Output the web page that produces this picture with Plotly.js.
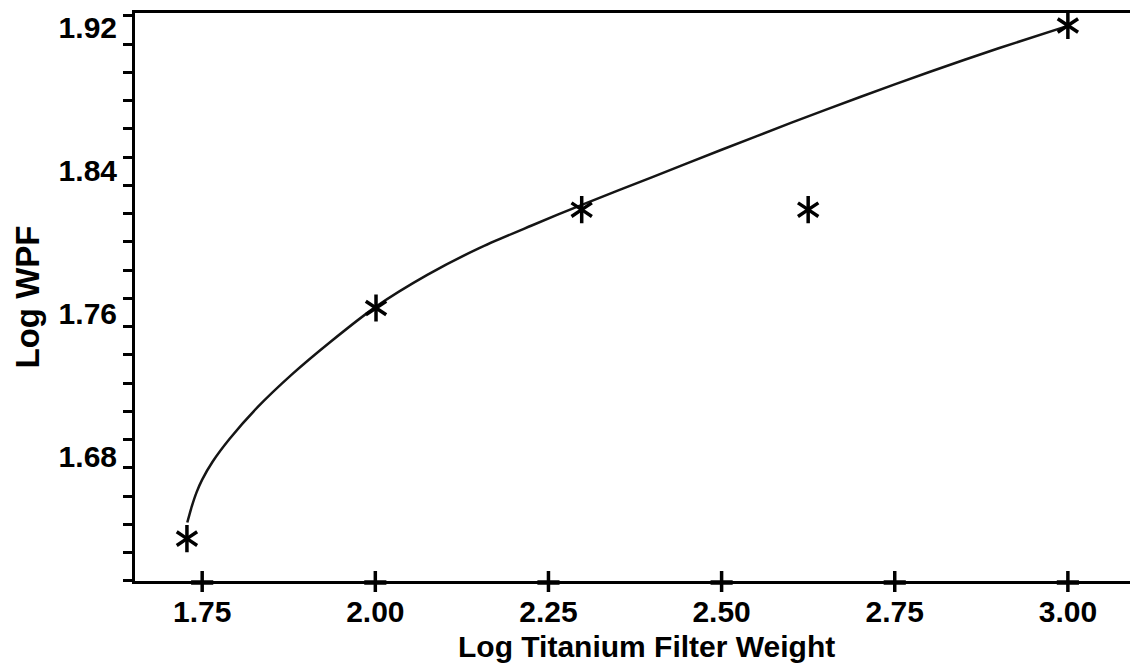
<!DOCTYPE html>
<html>
<head>
<meta charset="utf-8">
<script src="https://cdn.plot.ly/plotly-3.0.1.min.js"></script>
<style>
  html, body { margin: 0; padding: 0; background: #ffffff; }
  #chart { width: 1130px; height: 669px; }
</style>
</head>
<body>
<div id="chart"></div>
<script>
// Measured points: log titanium filter weight vs log WPF
const filterWeight = [1.728, 2.001, 2.298, 2.625, 3.000];
const logWPF       = [1.634, 1.763, 1.818, 1.818, 1.921];

// Fitted curve, sampled along its length
const fitX = [1.7285, 1.735, 1.742, 1.750, 1.765, 1.790, 1.830, 1.880, 1.935, 2.000, 2.075,
              2.150, 2.225, 2.300, 2.400, 2.500, 2.600, 2.700, 2.800, 2.900, 3.000];
const fitY = [1.643, 1.652, 1.660, 1.667, 1.677, 1.690, 1.7075, 1.726, 1.744, 1.7635, 1.7815,
              1.7965, 1.809, 1.821, 1.8362, 1.8515, 1.8665, 1.881, 1.895, 1.9083, 1.9208];

// Axis labels
const xTicks = [1.75, 2.00, 2.25, 2.50, 2.75, 3.00];
const xTickText = ['1.75', '2.00', '2.25', '2.50', '2.75', '3.00'];
const yTicks = [1.68, 1.76, 1.84, 1.92];
const yTickText = ['1.68', '1.76', '1.84', '1.92'];
const xTitle = 'Log Titanium Filter Weight';
const yTitle = 'Log WPF';

const FONT = 'Liberation Sans, Arial, Helvetica, sans-serif';
const xRange = [1.653, 3.0897];
const yRange = [1.6103, 1.928];
const PLOT_H = 669 - 13 - 88;
const PLOT_W = 1130 - 135;

const starMarker = (symbol) => ({
  x: filterWeight,
  y: logWPF,
  type: 'scatter',
  mode: 'markers',
  marker: { symbol: symbol, size: 17, color: '#000', line: { color: '#000', width: 3.5 } },
  hoverinfo: 'skip',
  cliponaxis: false
});

const traces = [
  {
    x: fitX,
    y: fitY,
    type: 'scatter',
    mode: 'lines',
    line: { color: '#151515', width: 2.5, shape: 'spline', smoothing: 0.7 },
    hoverinfo: 'skip'
  },
  starMarker('y-up-open'),
  starMarker('y-down-open')
];

// Cross-shaped x ticks straddling the bottom axis line
const crossShapes = [];
xTicks.forEach((v) => {
  crossShapes.push({
    type: 'line', xref: 'x', yref: 'paper', layer: 'above',
    x0: v, x1: v, y0: -11 / PLOT_H, y1: 10 / PLOT_H,
    line: { color: '#000', width: 3.5 }
  });
  crossShapes.push({
    type: 'line', xref: 'x', yref: 'paper', layer: 'above',
    x0: v - 0.016, x1: v + 0.016, y0: -1.5 / PLOT_H, y1: -1.5 / PLOT_H,
    line: { color: '#000', width: 4.5 }
  });
});

const layout = {
  width: 1130,
  height: 669,
  margin: { l: 135, r: 0, t: 13, b: 88 },
  paper_bgcolor: '#ffffff',
  plot_bgcolor: '#ffffff',
  showlegend: false,
  hovermode: false,
  font: { family: FONT, color: '#000', size: 29 },
  shapes: crossShapes,
  annotations: [{
    text: xTitle,
    xref: 'paper', yref: 'paper',
    x: (646 - 135) / PLOT_W, y: -(646 - 581) / PLOT_H,
    xanchor: 'center', yanchor: 'middle',
    showarrow: false,
    font: { family: FONT, size: 30, color: '#000', weight: 'bold' }
  }],
  xaxis: {
    range: xRange,
    tickmode: 'array',
    tickvals: xTicks,
    ticktext: xTickText,
    ticks: '',
    ticklabelstandoff: 2,
    showgrid: false,
    zeroline: false,
    showline: true,
    linecolor: '#000',
    linewidth: 3,
    mirror: true,
    tickfont: { family: FONT, size: 30, color: '#000', weight: 'bold' }
  },
  yaxis: {
    range: yRange,
    tickmode: 'array',
    tickvals: yTicks,
    ticktext: yTickText,
    ticks: '',
    ticklabelstandoff: 9,
    minor: {
      ticks: 'outside',
      ticklen: 9,
      tickwidth: 3,
      tickcolor: '#000',
      tick0: 1.6104,
      dtick: 0.0158,
      showgrid: false
    },
    showgrid: false,
    zeroline: false,
    showline: true,
    linecolor: '#000',
    linewidth: 3,
    tickfont: { family: FONT, size: 30, color: '#000', weight: 'bold' },
    title: {
      text: yTitle,
      font: { family: FONT, size: 33, color: '#000', weight: 'bold' },
      standoff: 10
    }
  }
};

Plotly.newPlot('chart', traces, layout, { staticPlot: true, displayModeBar: false });
</script>
</body>
</html>
